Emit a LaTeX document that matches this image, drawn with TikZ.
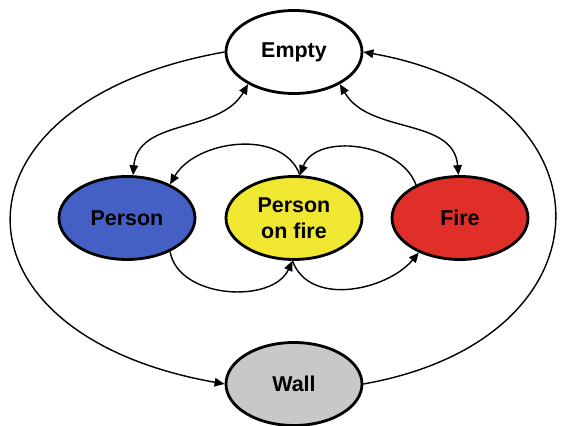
\documentclass[tikz,border=0pt]{standalone}
\usepackage{fontspec}
\setmainfont{Liberation Sans}
\usetikzlibrary{shapes.geometric,arrows.meta}
\definecolor{personblue}{RGB}{68,96,196}
\definecolor{onfireyellow}{RGB}{240,232,48}
\definecolor{firered}{RGB}{224,46,40}
\definecolor{wallgray}{RGB}{200,200,200}

\begin{document}
\begin{tikzpicture}[
  state/.style={ellipse, draw, line width=1.6pt, minimum width=2.72cm,
    minimum height=1.66cm, inner sep=0pt, align=center,
    font=\fontsize{12.2}{14.5}\selectfont\bfseries},
  >={Triangle[length=0.2cm, width=0.17cm]}, line width=0.8pt]
\useasboundingbox (0, 0) rectangle (11.36, 8.52);

\node[state] (empty) at (5.88, 7.48) {Empty};
\node[state, fill=personblue] (person) at (2.54, 4.16) {Person};
\node[state, fill=onfireyellow] (onfire) at (5.88, 4.16) {Person\\on fire};
\node[state, fill=firered] (fire) at (9.20, 4.16) {Fire};
\node[state, fill=wallgray] (wall) at (5.88, 0.84) {Wall};

\draw (empty.west) to[out=190, in=170, looseness=2.23] (wall.west) [->];
\draw (wall.east) to[out=10, in=-10, looseness=2.0] (empty.east) [->];

\draw (empty.215) to[out=240, in=85] (person.82) [<->];
\draw (empty.325) to[out=300, in=95] (fire.92) [<->];

\draw (onfire.82) to[out=110, in=60] (person.38) [->];
\draw (fire.143) to[out=110, in=70] (onfire.82) [->];

\draw (person.-38) to[out=-80, in=245] (onfire.-92) [->];
\draw (onfire.-92) to[out=-70, in=230] (fire.220) [->];

\end{tikzpicture}
\end{document}
